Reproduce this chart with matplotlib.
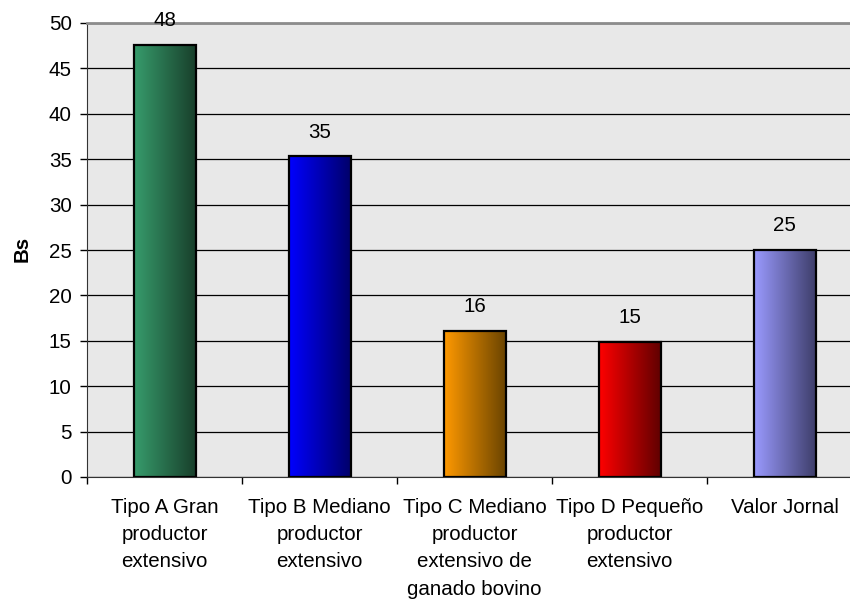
import numpy as np
import matplotlib.pyplot as plt
from matplotlib.colors import LinearSegmentedColormap

categories = ['Tipo A Gran\nproductor\nextensivo',
              'Tipo B Mediano\nproductor\nextensivo',
              'Tipo C Mediano\nproductor\nextensivo de\nganado bovino',
              'Tipo D Pequeño\nproductor\nextensivo',
              'Valor Jornal']
values = [47.6, 35.3, 16.1, 14.9, 25.0]

# left (light) and right (dark) end of each bar's gradient
light = ['#379c6c', '#0000ff', '#ff9900', '#ff0000', '#9a9aff']
dark = ['#183f2b', '#00006a', '#6a4400', '#600000', '#3e3e6a']

plt.rcParams['font.family'] = ['Liberation Sans', 'DejaVu Sans']
plt.rcParams['font.size'] = 14.8

fig = plt.figure(figsize=(8.5, 6.08), dpi=100)
ax = fig.add_axes([87 / 850, 131 / 608, 775 / 850, 454 / 608])
ax.set_facecolor('#e8e8e8')

x = np.arange(len(values))
bars = ax.bar(x, values, width=0.4, color='none', edgecolor='black',
              linewidth=1.6, zorder=3)

grad = np.linspace(0, 1, 256).reshape(1, -1)
for bar, c0, c1 in zip(bars, light, dark):
    cmap = LinearSegmentedColormap.from_list('bar', [c0, c1])
    x0, y0 = bar.get_xy()
    ax.imshow(grad, cmap=cmap, aspect='auto', zorder=2,
              extent=[x0, x0 + bar.get_width(), y0, y0 + bar.get_height()])

for bar, v in zip(bars, values):
    ax.annotate('%.0f' % v, (bar.get_x() + bar.get_width() / 2, v),
                xytext=(0, 13.5), textcoords='offset points',
                ha='center', va='baseline', annotation_clip=False)

ax.set_xlim(-0.5, len(values) - 0.5)
ax.set_ylim(0, 50)
ax.set_yticks(np.arange(0, 51, 5))

# category boundaries get tick marks, names sit in between
ax.set_xticks(np.arange(-0.5, len(values) - 0.5, 1))
ax.set_xticklabels([])
ax.set_xticks(x, minor=True)
ax.set_xticklabels(categories, minor=True, linespacing=1.55)
ax.tick_params(axis='x', which='major', direction='out', length=5, width=1)
ax.tick_params(axis='x', which='minor', length=0, pad=15)
ax.tick_params(axis='y', direction='out', length=5, width=1, pad=6)

ax.yaxis.grid(True, color='black', linewidth=0.9)
ax.set_axisbelow(True)

ax.spines['top'].set_color('#8c8c8c')
ax.spines['top'].set_linewidth(2)
ax.spines['right'].set_visible(False)
ax.spines['left'].set_color('#333333')
ax.spines['bottom'].set_color('#333333')

fig.text(22 / 850, 1 - 249 / 608, 'Bs', rotation=90, ha='center',
         va='center', fontweight='bold')

fig.savefig('out.png', dpi=100)
